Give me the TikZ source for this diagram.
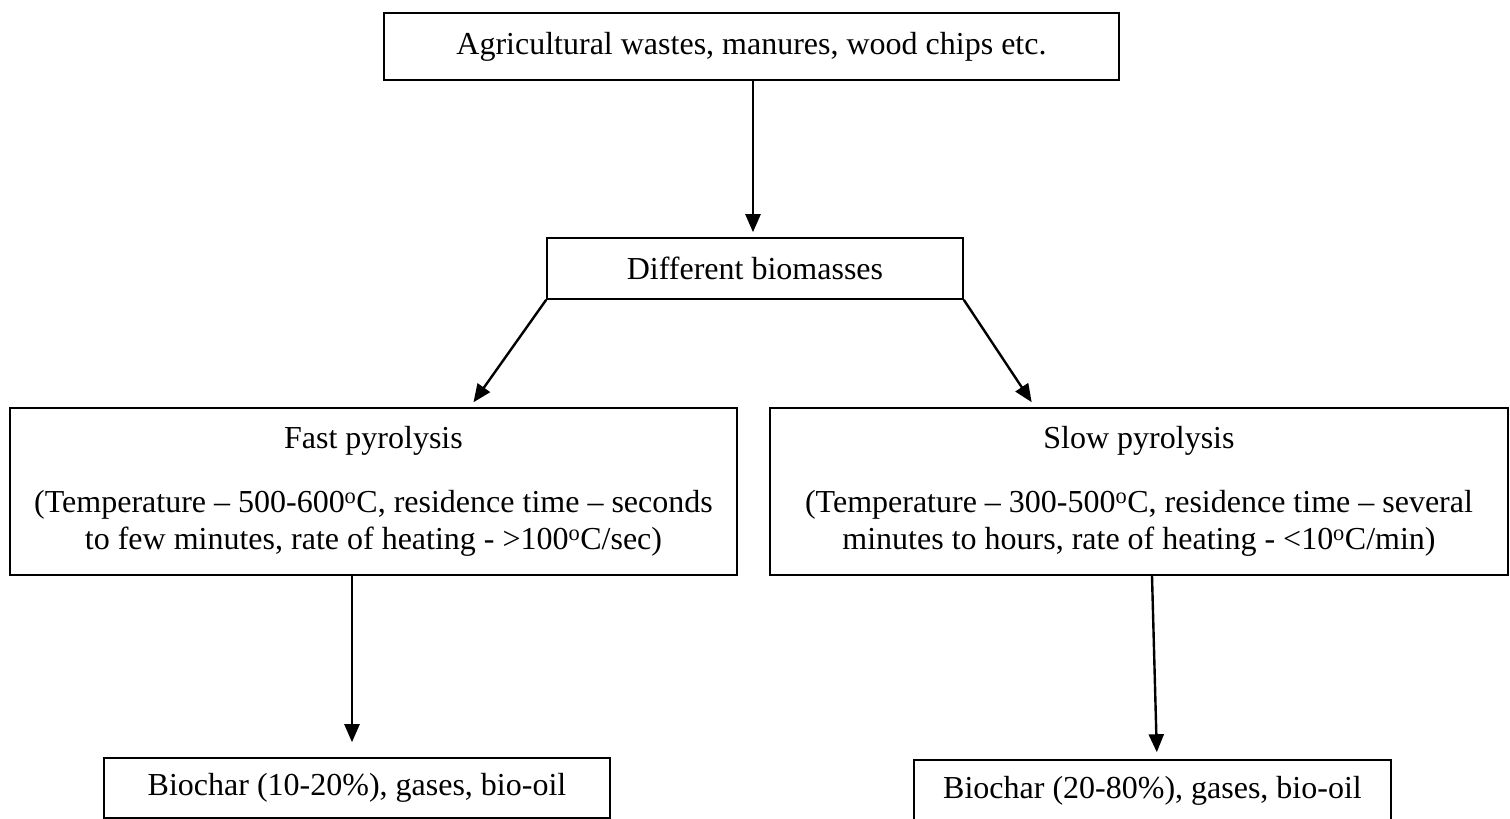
\documentclass[tikz,border=0pt]{standalone}
\usepackage{fontspec}
\setmainfont{Liberation Serif}
\usetikzlibrary{arrows.meta}
\tikzset{
  box/.style={draw=black, line width=1.6pt, inner sep=0pt, align=center,
    font=\fontsize{32}{36.8}\selectfont},
  conn/.style={line width=2.4pt, -{Triangle[length=18pt,width=15pt]}},
}
\begin{document}
\begin{tikzpicture}[x=1pt,y=-1pt]
\useasboundingbox (0,0) rectangle (1510,819);
\clip (0,0) rectangle (1510,819);
\fill[white] (0,0) rectangle (1510,819);
\node[box, minimum width=735pt, minimum height=67pt] (top) at (751.5,46.5)
  {Agricultural wastes, manures, wood chips etc.};
\node[box, minimum width=416pt, minimum height=61pt] (diff) at (755,268.5)
  {Different biomasses};
\node[box, minimum width=727pt, minimum height=167pt] (fast) at (373.5,491.5)
  {Fast pyrolysis\\[27pt]
   (Temperature -- 500-600\textsuperscript{o}C, residence time -- seconds\\
   to few minutes, rate of heating - >100\textsuperscript{o}C/sec)};
\node[box, minimum width=738pt, minimum height=167pt] (slow) at (1139,491.5)
  {Slow pyrolysis\\[27pt]
   (Temperature -- 300-500\textsuperscript{o}C, residence time -- several\\
   minutes to hours, rate of heating - <10\textsuperscript{o}C/min)};
\node[box, minimum width=506pt, minimum height=60pt] (lbio) at (357,788)
  {Biochar (10-20\%), gases, bio-oil};
\node[box, minimum width=477pt, minimum height=62pt] (rbio) at (1152.5,791)
  {Biochar (20-80\%), gases, bio-oil};
\draw[conn, shorten >=5pt] ([xshift=1.5pt]top.south) -- ([xshift=-2pt]diff.north);
\draw[conn, shorten >=6pt] (diff.south west) -- ([xshift=96.5pt]fast.north);
\draw[conn, shorten >=6pt] (diff.south east) -- ([xshift=-104pt]slow.north);
\draw[conn, shorten >=15pt] ([xshift=-21.5pt]fast.south) -- ([xshift=-5pt]lbio.north);
\draw[conn, shorten >=7pt] ([xshift=13pt]slow.south) -- ([xshift=4.5pt]rbio.north);
\end{tikzpicture}
\end{document}
